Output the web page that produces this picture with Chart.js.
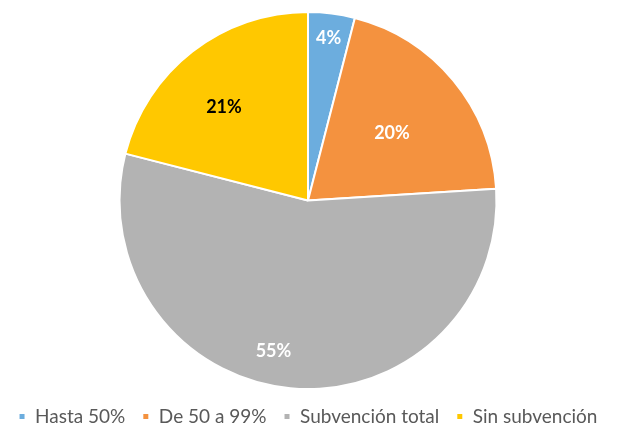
<!DOCTYPE html>
<html>
<head>
<meta charset="utf-8">
<script src="https://cdn.jsdelivr.net/npm/chart.js@4"></script>
<style>
  html, body { margin: 0; padding: 0; background: #fff; }
  #wrap { width: 624px; height: 429px; }
</style>
</head>
<body>
<div id="wrap"><canvas id="chart"></canvas></div>
<script>
const labels = ["Hasta 50%", "De 50 a 99%", "Subvención total", "Sin subvención"];
const values = [4, 20, 55, 21];
const colors = ["#6CADDE", "#F4923F", "#B3B3B3", "#FFC800"];
const labelColors = ["#fff", "#fff", "#fff", "#000"];
// where each percentage sits: share of the radius, and a nudge in degrees
const labelRadius = [0.87, 0.57, 0.82, 0.665];
const labelShift = [0, 1, 7.5, -4.3];

const sliceLabels = {
  id: "sliceLabels",
  afterDatasetsDraw(chart) {
    const ctx = chart.ctx;
    const meta = chart.getDatasetMeta(0);
    ctx.save();
    ctx.font = "bold 18px Lato, 'Open Sans', sans-serif";
    ctx.textAlign = "center";
    ctx.textBaseline = "middle";
    meta.data.forEach((arc, i) => {
      const p = arc.getProps(["x", "y", "startAngle", "endAngle", "outerRadius"], true);
      const mid = (p.startAngle + p.endAngle) / 2 + labelShift[i] * Math.PI / 180;
      const r = p.outerRadius * labelRadius[i];
      ctx.fillStyle = labelColors[i];
      ctx.fillText(values[i] + "%", p.x + Math.cos(mid) * r, p.y + Math.sin(mid) * r);
    });
    ctx.restore();
  }
};

new Chart(document.getElementById("chart"), {
  type: "pie",
  data: {
    labels: labels,
    datasets: [{
      data: values,
      backgroundColor: colors,
      borderColor: "#fff",
      borderWidth: 2
    }]
  },
  options: {
    responsive: true,
    maintainAspectRatio: false,
    animation: false,
    layout: { padding: { top: 11, left: 0, right: 8, bottom: -7 } },
    plugins: {
      tooltip: { enabled: false },
      legend: {
        position: "bottom",
        labels: {
          boxWidth: 7,
          boxHeight: 7,
          padding: 17,
          color: "#595959",
          font: { family: "Lato, 'Open Sans', sans-serif", size: 19 }
        }
      }
    }
  },
  plugins: [sliceLabels]
});
</script>
</body>
</html>
